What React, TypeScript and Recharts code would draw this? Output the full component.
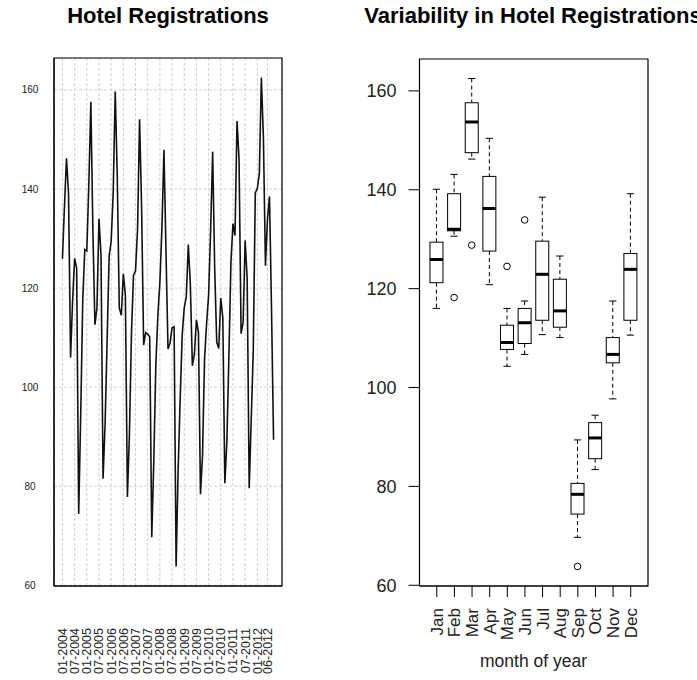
import { Bar, CartesianGrid, ComposedChart, Line, LineChart, ReferenceArea, XAxis, YAxis } from 'recharts';

const FONT = '"Liberation Sans", Arial, sans-serif';

const MONTHS = ['Jan', 'Feb', 'Mar', 'Apr', 'May', 'Jun', 'Jul', 'Aug', 'Sep', 'Oct', 'Nov', 'Dec'];

// monthly hotel registrations, Jan 2004 - Sep 2012
const Y2004 = [125.9, 136.5, 146.2, 139.0, 106.0, 117.5, 126.0, 124.0, 74.4, 94.4, 117.5, 127.8];
const Y2005 = [127.5, 141.0, 157.6, 131.5, 112.6, 116.0, 134.0, 126.6, 81.5, 92.4, 109.4, 126.4];
const Y2006 = [129.4, 139.2, 159.7, 142.7, 116.0, 114.5, 122.9, 118.5, 77.8, 90.6, 110.8, 122.6];
const Y2007 = [123.5, 131.9, 154.1, 136.2, 108.5, 111.0, 110.7, 110.1, 69.7, 85.0, 104.4, 114.4];
const Y2008 = [121.2, 132.0, 147.9, 127.6, 107.7, 108.9, 112.0, 112.2, 63.8, 83.4, 97.7, 110.6];
const Y2009 = [116.0, 118.2, 128.8, 120.8, 104.3, 106.7, 113.6, 111.0, 78.4, 86.2, 105.6, 112.8];
const Y2010 = [118.5, 131.7, 147.5, 124.0, 109.1, 107.8, 118.0, 114.0, 80.6, 89.0, 106.2, 125.2];
const Y2011 = [133.0, 130.6, 153.7, 146.0, 110.8, 113.1, 129.6, 121.9, 79.6, 93.4, 107.2, 139.2];
const Y2012 = [140.1, 143.1, 162.5, 150.4, 124.5, 133.9, 138.5, 115.5, 89.4];

const YEARS = [Y2004, Y2005, Y2006, Y2007, Y2008, Y2009, Y2010, Y2011, Y2012];

const TICK_MONTHS = [0, 6, 12, 18, 24, 30, 36, 42, 48, 54, 60, 66, 72, 78, 84, 90, 96, 101];
const TICK_LABELS = [
  '01-2004', '07-2004', '01-2005', '07-2005', '01-2006', '07-2006', '01-2007', '07-2007', '01-2008',
  '07-2008', '01-2009', '07-2009', '01-2010', '07-2010', '01-2011', '07-2011', '01-2012', '06-2012',
];
const VALUE_TICKS = [60, 80, 100, 120, 140, 160];

const series = YEARS.flat().map((v, i) => ({ m: i, v }));
const vals = series.map((d) => d.v);
const vMin = Math.min(...vals);
const vMax = Math.max(...vals);
const Y_DOMAIN = [vMin - (vMax - vMin) * 0.04, vMax + (vMax - vMin) * 0.04];
const last = series.length - 1;
const X_DOMAIN = [-last * 0.04, last * 1.04];
// boxplot x range like R: 0.5..12.5 widened by 4%
const BOX_DOMAIN = [0.5 - 0.04 * MONTHS.length, MONTHS.length + 0.5 + 0.04 * MONTHS.length];
const BOX_TICKS = MONTHS.map((_, k) => k + 1);

// R-style fivenum / boxplot.stats
function fivenum(xs: number[]) {
  const s = [...xs].sort((a, b) => a - b);
  const n = s.length;
  const n4 = Math.floor((n + 3) / 2) / 2;
  const d = [1, n4, (n + 1) / 2, n + 1 - n4, n];
  return d.map((p) => 0.5 * (s[Math.floor(p) - 1] + s[Math.ceil(p) - 1]));
}

const boxes = MONTHS.map((month, k) => {
  const xs = YEARS.map((y) => y[k]).filter((v) => v !== undefined);
  const [, q1, med, q3] = fivenum(xs);
  const iqr = q3 - q1;
  const inside = xs.filter((v) => v >= q1 - 1.5 * iqr && v <= q3 + 1.5 * iqr);
  const out = xs.filter((v) => v < q1 - 1.5 * iqr || v > q3 + 1.5 * iqr);
  return { idx: k + 1, month, range: [Math.min(...inside), Math.max(...inside)], q1, med, q3, out };
});

function BoxShape(props: any) {
  const { x, y, width, height, payload } = props;
  const [lo, hi] = payload.range;
  const py = (v: number) => y + ((hi - v) / (hi - lo)) * height;
  const cx = x + width / 2;
  const cap = width * 0.28;
  return (
    <g>
      <line x1={cx} x2={cx} y1={py(hi)} y2={py(payload.q3)} stroke="#000" strokeDasharray="4 3" />
      <line x1={cx} x2={cx} y1={py(payload.q1)} y2={py(lo)} stroke="#000" strokeDasharray="4 3" />
      <line x1={cx - cap} x2={cx + cap} y1={py(hi)} y2={py(hi)} stroke="#000" />
      <line x1={cx - cap} x2={cx + cap} y1={py(lo)} y2={py(lo)} stroke="#000" />
      <rect x={x} y={py(payload.q3)} width={width} height={py(payload.q1) - py(payload.q3)} fill="#fff" stroke="#000" />
      <line x1={x} x2={x + width} y1={py(payload.med)} y2={py(payload.med)} stroke="#000" strokeWidth={3} />
      {payload.out.map((v: number, i: number) => (
        <circle key={i} cx={cx} cy={py(v)} r={3.3} fill="none" stroke="#000" />
      ))}
    </g>
  );
}

function DateTick({ x, y, payload }: any) {
  const label = TICK_LABELS[TICK_MONTHS.indexOf(payload.value)];
  return (
    <text x={x} y={y} transform={`rotate(-90 ${x} ${y})`} textAnchor="end" dy="0.35em" fontSize={12.5} fill="#222" fontFamily={FONT}>
      {label}
    </text>
  );
}

function SmallValueTick({ x, y, payload }: any) {
  return (
    <text x={x} y={y} textAnchor="middle" dy="0.35em" fontSize={10} fill="#222" fontFamily={FONT}>
      {payload.value}
    </text>
  );
}

function MonthTick({ x, y, payload }: any) {
  return (
    <text x={x} y={y} transform={`rotate(-90 ${x} ${y})`} textAnchor="end" dy="0.35em" fontSize={17} fill="#222" fontFamily={FONT}>
      {MONTHS[payload.value - 1]}
    </text>
  );
}

const titleStyle = {
  position: 'absolute' as const,
  top: 3,
  fontSize: 22,
  fontWeight: 'bold' as const,
  textAlign: 'center' as const,
  whiteSpace: 'nowrap' as const,
  color: '#000',
};

export default function App() {
  return (
    <div style={{ position: 'absolute', left: 0, top: 0, width: 697, height: 680, overflow: 'hidden', background: '#fff', fontFamily: FONT }}>
      <div style={{ ...titleStyle, left: 18, width: 300 }}>Hotel Registrations</div>
      <div style={{ ...titleStyle, left: 333, width: 400 }}>Variability in Hotel Registrations</div>

      <div style={{ position: 'absolute', left: 0, top: 0 }}>
        <LineChart width={300} height={680} data={series} margin={{ top: 58, right: 18, bottom: 0, left: 0 }}>
          <CartesianGrid stroke="#d0d0d0" strokeDasharray="3 2" />
          <XAxis dataKey="m" type="number" domain={X_DOMAIN} ticks={TICK_MONTHS} allowDataOverflow interval={0}
            height={94} tickSize={0} tickMargin={42} tickLine={false} stroke="#000" tick={<DateTick />} />
          <YAxis type="number" domain={Y_DOMAIN} ticks={VALUE_TICKS} allowDataOverflow width={54}
            tickSize={0} tickMargin={24} tickLine={false} stroke="#000" tick={<SmallValueTick />} />
          <ReferenceArea x1={X_DOMAIN[0]} x2={X_DOMAIN[1]} y1={Y_DOMAIN[0]} y2={Y_DOMAIN[1]}
            fill="none" stroke="#000" strokeWidth={1.2} ifOverflow="visible" />
          <Line type="linear" dataKey="v" stroke="#111" strokeWidth={1.6} dot={false} isAnimationActive={false} />
        </LineChart>
      </div>

      <div style={{ position: 'absolute', left: 340, top: 0 }}>
        <ComposedChart width={357} height={680} data={boxes} margin={{ top: 59, right: 49, bottom: 0, left: 0 }}>
          <XAxis dataKey="idx" type="number" domain={BOX_DOMAIN} ticks={BOX_TICKS} allowDataOverflow interval={0}
            height={94} tickSize={11} tickMargin={11} stroke="#000" tick={<MonthTick />} />
          <YAxis type="number" domain={Y_DOMAIN} ticks={VALUE_TICKS} allowDataOverflow width={79.5}
            tickSize={11} tickMargin={12} stroke="#000" tick={{ fontSize: 18, fill: '#222', fontFamily: FONT }} />
          <ReferenceArea x1={BOX_DOMAIN[0]} x2={BOX_DOMAIN[1]} y1={Y_DOMAIN[0]} y2={Y_DOMAIN[1]}
            fill="none" stroke="#000" strokeWidth={1.2} ifOverflow="visible" />
          <Bar dataKey="range" barSize={13} shape={<BoxShape />} isAnimationActive={false} />
        </ComposedChart>
      </div>

      <div style={{ position: 'absolute', left: 433.5, top: 651, width: 200, textAlign: 'center', fontSize: 17.5, color: '#222' }}>
        month of year
      </div>
    </div>
  );
}
